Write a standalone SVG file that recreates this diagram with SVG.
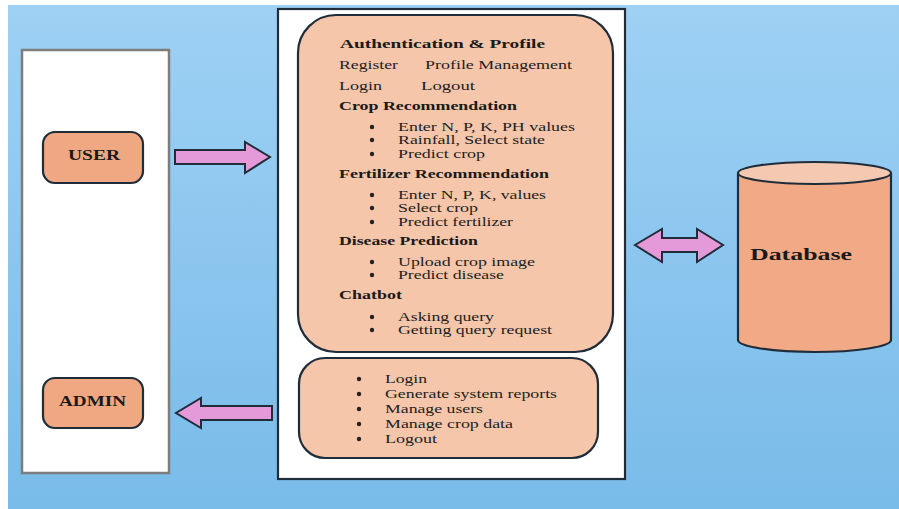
<svg xmlns="http://www.w3.org/2000/svg" width="899" height="509" viewBox="0 0 899 509">
<defs>
<linearGradient id="bg" x1="0" y1="0" x2="0" y2="1">
<stop offset="0" stop-color="#9ed1f4"/>
<stop offset="1" stop-color="#79bbe9"/>
</linearGradient>
<style>
.t{font-family:"Liberation Serif","Times New Roman",serif;font-size:11.7px;fill:#222}
.h{font-family:"Liberation Serif","Times New Roman",serif;font-size:12.5px;font-weight:bold;fill:#1a1a1a}
.lbl{font-family:"Liberation Serif","Times New Roman",serif;font-size:14px;font-weight:bold;fill:#1a1a1a}
.box{fill:#f5c6aa;stroke:#1f2d3a;stroke-width:2.2}
.actor{fill:#f0a883;stroke:#1f2d3a;stroke-width:2.2}
.arrow{fill:#e49ad9;stroke:#1f2d3a;stroke-width:2}
.b{fill:#222}
</style>
</defs>
<rect x="0" y="0" width="899" height="509" fill="#ffffff"/>
<rect x="8" y="5" width="891" height="504" fill="url(#bg)"/>

<g id="actors-panel">
<rect x="22" y="50" width="147" height="423" fill="#ffffff" stroke="#7d7d7d" stroke-width="2.5"/>
</g>
<g id="user">
<rect class="actor" x="43" y="132" width="100" height="51" rx="12"/>
<text class="lbl" x="68" y="160" textLength="52" lengthAdjust="spacingAndGlyphs">USER</text>
</g>
<g id="admin">
<rect class="actor" x="43" y="378" width="100" height="50" rx="12"/>
<text class="lbl" x="59" y="406" textLength="67" lengthAdjust="spacingAndGlyphs">ADMIN</text>
</g>

<g id="system-panel">
<rect x="278" y="9" width="347" height="470" fill="#ffffff" stroke="#1f2d3a" stroke-width="2.2"/>
</g>

<g id="user-features">
<rect class="box" x="298" y="15" width="315" height="337" rx="38"/>
<text class="h" x="340" y="48" textLength="205" lengthAdjust="spacingAndGlyphs">Authentication &amp; Profile</text>
<text class="t" x="339" y="69" textLength="59" lengthAdjust="spacingAndGlyphs">Register</text>
<text class="t" x="425" y="69" textLength="147" lengthAdjust="spacingAndGlyphs">Profile Management</text>
<text class="t" x="339" y="90" textLength="43" lengthAdjust="spacingAndGlyphs">Login</text>
<text class="t" x="421" y="90" textLength="54" lengthAdjust="spacingAndGlyphs">Logout</text>
<text class="h" x="339" y="110" textLength="178" lengthAdjust="spacingAndGlyphs">Crop Recommendation</text>
<circle class="b" cx="372" cy="127" r="2.2"/><text class="t" x="398" y="131" textLength="177" lengthAdjust="spacingAndGlyphs">Enter N, P, K, PH values</text>
<circle class="b" cx="372" cy="140" r="2.2"/><text class="t" x="398" y="144" textLength="147" lengthAdjust="spacingAndGlyphs">Rainfall, Select state</text>
<circle class="b" cx="372" cy="154" r="2.2"/><text class="t" x="398" y="158" textLength="87" lengthAdjust="spacingAndGlyphs">Predict crop</text>
<text class="h" x="339" y="178" textLength="210" lengthAdjust="spacingAndGlyphs">Fertilizer Recommendation</text>
<circle class="b" cx="372" cy="195" r="2.2"/><text class="t" x="398" y="199" textLength="148" lengthAdjust="spacingAndGlyphs">Enter N, P, K, values</text>
<circle class="b" cx="372" cy="208" r="2.2"/><text class="t" x="398" y="212" textLength="80" lengthAdjust="spacingAndGlyphs">Select crop</text>
<circle class="b" cx="372" cy="222" r="2.2"/><text class="t" x="398" y="226" textLength="115" lengthAdjust="spacingAndGlyphs">Predict fertilizer</text>
<text class="h" x="339" y="245" textLength="139" lengthAdjust="spacingAndGlyphs">Disease Prediction</text>
<circle class="b" cx="372" cy="262" r="2.2"/><text class="t" x="398" y="266" textLength="137" lengthAdjust="spacingAndGlyphs">Upload crop image</text>
<circle class="b" cx="372" cy="275" r="2.2"/><text class="t" x="398" y="279" textLength="106" lengthAdjust="spacingAndGlyphs">Predict disease</text>
<text class="h" x="339" y="299" textLength="63" lengthAdjust="spacingAndGlyphs">Chatbot</text>
<circle class="b" cx="372" cy="317" r="2.2"/><text class="t" x="398" y="321" textLength="96" lengthAdjust="spacingAndGlyphs">Asking query</text>
<circle class="b" cx="372" cy="330" r="2.2"/><text class="t" x="398" y="334" textLength="154" lengthAdjust="spacingAndGlyphs">Getting query request</text>
</g>

<g id="admin-features">
<rect class="box" x="299" y="358" width="299" height="100" rx="26"/>
<circle class="b" cx="359" cy="379" r="2.2"/><text class="t" x="385" y="383" textLength="42" lengthAdjust="spacingAndGlyphs">Login</text>
<circle class="b" cx="359" cy="394" r="2.2"/><text class="t" x="385" y="398" textLength="172" lengthAdjust="spacingAndGlyphs">Generate system reports</text>
<circle class="b" cx="359" cy="409" r="2.2"/><text class="t" x="385" y="413" textLength="98" lengthAdjust="spacingAndGlyphs">Manage users</text>
<circle class="b" cx="359" cy="424" r="2.2"/><text class="t" x="385" y="428" textLength="128" lengthAdjust="spacingAndGlyphs">Manage crop data</text>
<circle class="b" cx="359" cy="439" r="2.2"/><text class="t" x="385" y="443" textLength="52" lengthAdjust="spacingAndGlyphs">Logout</text>
</g>

<g id="database">
<path d="M738 173 L738 340 A76.5 12 0 0 0 891 340 L891 173" fill="#f2a985" stroke="#1f2d3a" stroke-width="2.2"/>
<ellipse cx="814.5" cy="173" rx="76.5" ry="11" fill="#f5c9b1" stroke="#1f2d3a" stroke-width="2.2"/>
<text x="750" y="260" font-family="'Liberation Serif','Times New Roman',serif" font-size="17" font-weight="bold" fill="#1a1a1a" textLength="102" lengthAdjust="spacingAndGlyphs">Database</text>
</g>

<g id="connectors">
<path class="arrow" d="M175 150 L245 150 L245 142 L270 157 L245 173 L245 164 L175 164 Z"/>
<path class="arrow" d="M272 406 L201 406 L201 398 L176 413 L201 428 L201 420 L272 420 Z"/>
<path class="arrow" d="M635 245 L662 229 L662 238 L697 238 L697 229 L723 245 L697 262 L697 252 L662 252 L662 262 Z"/>
</g>
</svg>
